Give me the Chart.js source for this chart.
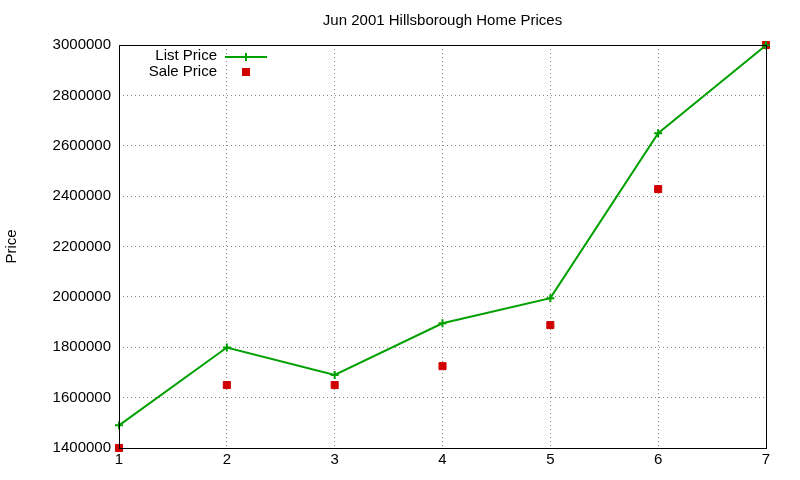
<!DOCTYPE html>
<html><head><script src="https://cdn.jsdelivr.net/npm/chart.js@4"></script>
<style>body{margin:0;background:#fff}#w{width:800px;height:480px}</style></head>
<body><div id="w"><canvas id="c"></canvas></div>
<script>
const xValues=[1,2,3,4,5,6,7];
const listPrice=[1490000,1799000,1690000,1895000,1995000,2650000,2999000];
const salePrice=[1400000,1650000,1650000,1725000,1888000,2428000,3000000];
const yTicks=[1400000,1600000,1800000,2000000,2200000,2400000,2600000,2800000,3000000];
const GREEN='#00a000',RED='#d00000';
const F='"Liberation Sans", Arial, sans-serif';
const deco={id:'deco',afterDraw(ch){const c=ch.ctx,a=ch.chartArea;c.save();
c.fillStyle='#000';c.font='15px '+F;c.textAlign='center';c.textBaseline='middle';
c.fillText('Jun 2001 Hillsborough Home Prices',(a.left+a.right)/2,21);
c.save();c.translate(12,(a.top+a.bottom)/2);c.rotate(-Math.PI/2);c.fillText('Price',0,0);c.restore();
c.strokeStyle='#000';c.lineWidth=1;c.strokeRect(a.left+0.5,a.top+0.5,a.right-a.left,a.bottom-a.top);
c.textAlign='right';c.fillText('List Price',217,56);c.fillText('Sale Price',217,72);
c.strokeStyle=GREEN;c.lineWidth=2;c.beginPath();c.moveTo(225,57);c.lineTo(267,57);c.moveTo(246,53);c.lineTo(246,61);c.stroke();
c.fillStyle=RED;c.fillRect(242,68,8,8);c.restore();}};
new Chart(document.getElementById('c'),{type:'scatter',
data:{datasets:[
{label:'List Price',data:xValues.map((x,i)=>({x,y:listPrice[i]})),showLine:true,clip:false,borderColor:GREEN,backgroundColor:GREEN,borderWidth:2,pointStyle:'cross',pointRadius:4,pointBorderWidth:2},
{label:'Sale Price',data:xValues.map((x,i)=>({x,y:salePrice[i]})),showLine:false,clip:false,borderColor:RED,backgroundColor:RED,pointStyle:'rect',pointRadius:5}]},
options:{animation:false,responsive:true,maintainAspectRatio:false,
layout:{padding:{top:45,right:34,left:0,bottom:0}},
plugins:{legend:{display:false},tooltip:{enabled:false}},
scales:{
x:{type:'linear',min:1,max:7,afterFit(s){s.height=32},ticks:{stepSize:1,color:'#000',font:{size:15,family:F}},
grid:{color:'#888',drawTicks:false},border:{display:false,dash:[1,3]}},
y:{min:1400000,max:3000000,afterFit(s){s.width=119},afterBuildTicks(s){s.ticks=yTicks.map(v=>({value:v}))},
ticks:{color:'#000',font:{size:15,family:F},padding:8,callback:v=>String(v)},
grid:{color:'#888',drawTicks:false},border:{display:false,dash:[1,3]}}}},
plugins:[deco]});
</script></body></html>
